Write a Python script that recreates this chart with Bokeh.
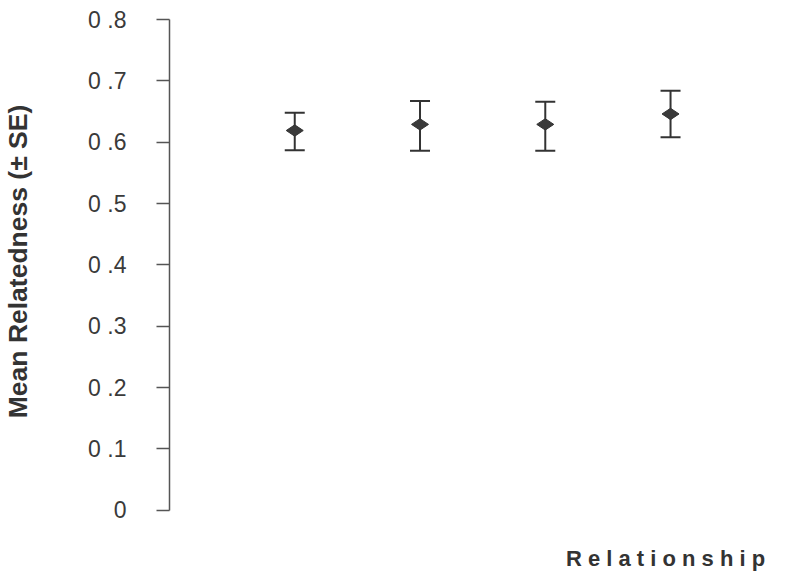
import math
from bokeh.plotting import figure
from bokeh.models import ColumnDataSource, Whisker, TeeHead, Range1d, FixedTicker, Label
from bokeh.embed import file_html
from bokeh.resources import INLINE

# data
positions = [1, 2, 3, 4]
means = [0.619, 0.629, 0.629, 0.646]
upper = [0.648, 0.667, 0.666, 0.684]
lower = [0.587, 0.586, 0.586, 0.608]
y_ticks = [0, 0.1, 0.2, 0.3, 0.4, 0.5, 0.6, 0.7, 0.8]
y_tick_labels = ["0", "0 .1", "0 .2", "0 .3", "0 .4", "0 .5", "0 .6", "0 .7", "0 .8"]
y_title = "Mean Relatedness (± SE)"
x_title = "R e l a t i o n s h i p"

src = ColumnDataSource(dict(x=positions, y=means, upper=upper, lower=lower))

p = figure(width=769, height=571, output_backend="svg", toolbar_location=None,
           x_range=Range1d(-1.349, 4.79), y_range=Range1d(-0.1, 0.831),
           min_border_left=0, min_border_right=0, min_border_top=0, min_border_bottom=0)
p.outline_line_color = None
p.grid.visible = False
p.xaxis.visible = False
p.background_fill_color = "white"

ya = p.yaxis[0]
ya.fixed_location = 0
ya.bounds = (0, 0.8)
ya.ticker = FixedTicker(ticks=y_ticks)
ya.major_label_overrides = {t: l for t, l in zip(y_ticks, y_tick_labels)}
ya.minor_tick_line_color = None
ya.major_tick_in = 0
ya.major_tick_out = 13
ya.major_tick_line_color = "#555555"
ya.major_tick_line_width = 1.5
ya.axis_line_color = "#555555"
ya.axis_line_width = 1.5
ya.major_label_standoff = 30
ya.major_label_text_font = "Liberation Sans"
ya.major_label_text_font_size = "23px"
ya.major_label_text_color = "#3a3a3a"

wh = Whisker(source=src, base="x", upper="upper", lower="lower", dimension="height",
             line_color="#333333", line_width=2,
             upper_head=TeeHead(size=20, line_color="#333333", line_width=2),
             lower_head=TeeHead(size=20, line_color="#333333", line_width=2))
p.add_layout(wh)

r = p.scatter("x", "y", source=src, marker="diamond", size=17, angle=math.pi / 2,
              fill_color="#3a3a3a", line_color="#333333", line_width=1)
r.level = "overlay"

ylab = Label(x=-1.208, y=0.4055, text=y_title, angle=math.pi / 2,
             text_align="center", text_baseline="middle",
             text_font="Liberation Sans", text_font_size="26.5px", text_font_style="bold",
             text_color="#333333")
p.add_layout(ylab)

xlab = Label(x=3.96, y=-0.079, text=x_title, text_align="center", text_baseline="middle",
             text_font="Liberation Sans", text_font_size="22px", text_font_style="bold",
             text_color="#333333")
p.add_layout(xlab)

open("out.html", "w").write(file_html(p, INLINE))
